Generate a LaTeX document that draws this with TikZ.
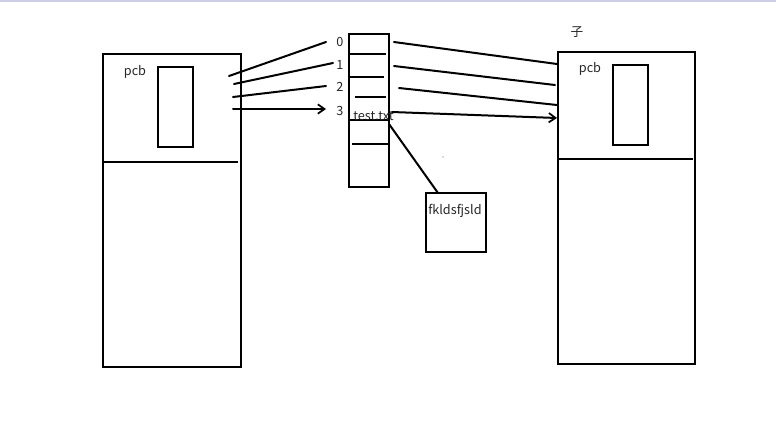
\documentclass[tikz,border=0pt]{standalone}
\usepackage{fontspec}
\setmainfont{Noto Sans CJK SC}
\usetikzlibrary{arrows.meta}
\begin{document}
\begin{tikzpicture}[x=0.75pt,y=-0.75pt,
  ln/.style={line width=1.5pt,line cap=round},
  thin/.style={line width=1.3pt},
  lbl/.style={font=\fontsize{9.5}{11}\selectfont,inner sep=0pt,text=black!85},
  arr/.style={ln,-{Straight Barb[length=5pt,width=7pt,line width=1.3pt]}}]
\useasboundingbox (0,0) rectangle (776,426);
\fill[fill={rgb,255:red,205;green,205;blue,228}] (0,0) rectangle (776,2);
% left process
\draw[thin] (103,54) rectangle (241,367);
\draw[thin] (103,162) -- (238,162);
\draw[thin] (158,67) rectangle (193,147);
\node[lbl] (pcbL) at (135,72) {pcb};
% table
\draw[thin] (349,34) rectangle (389,187);
\draw[thin] (349,54) -- (386,54);
\draw[thin] (349,77) -- (384,77);
\draw[thin] (355,97) -- (386,97);
\draw[thin] (349,120) -- (389,120);
\draw[thin] (352,144) -- (389,144);
\node[lbl] (n0) at (340,42) {0};
\node[lbl] (n1) at (340,65) {1};
\node[lbl] (n2) at (340,87) {2};
\node[lbl] (n3) at (340,111) {3};
\node[lbl,anchor=west] (tt) at (353,116) {test.txt};
% file box
\draw[thin] (426,193) rectangle (486,252);
\node[lbl,anchor=west] (fk) at (428,211) {fkldsfjsld};
\coordinate (fbtop) at (438,193);
\coordinate (ttend) at (389,124);
\draw[ln] (ttend) -- (fbtop);
\fill[black!60] (443,157) circle (0.7);
% right process
\draw[thin] (558,52) rectangle (695,364);
\draw[thin] (558,159) -- (693,159);
\draw[thin] (613,65) rectangle (648,145);
\node[lbl] (pcbR) at (590,69) {pcb};
\node[lbl] (zi) at (577,32) {子};
% left connectors
\coordinate (l0a) at (229,76); \coordinate (l0b) at (326,42);
\coordinate (l1a) at (234,84); \coordinate (l1b) at (333,63);
\coordinate (l2a) at (233,97); \coordinate (l2b) at (326,86);
\coordinate (l3a) at (233,109); \coordinate (l3b) at (326,109);
\draw[ln] (l0a) -- (l0b);
\draw[ln] (l1a) -- (l1b);
\draw[ln] (l2a) -- (l2b);
\draw[arr] (l3a) -- (l3b);
% right connectors
\coordinate (r0a) at (394,42); \coordinate (r0b) at (557,64);
\coordinate (r1a) at (394,66); \coordinate (r1b) at (555,85);
\coordinate (r2a) at (399,88); \coordinate (r2b) at (557,105);
\coordinate (r3a) at (392,112); \coordinate (r3b) at (557,118);
\draw[ln] (r0a) -- (r0b);
\draw[ln] (r1a) -- (r1b);
\draw[ln] (r2a) -- (r2b);
\draw[arr] (r3a) -- (r3b);
\end{tikzpicture}
\end{document}
